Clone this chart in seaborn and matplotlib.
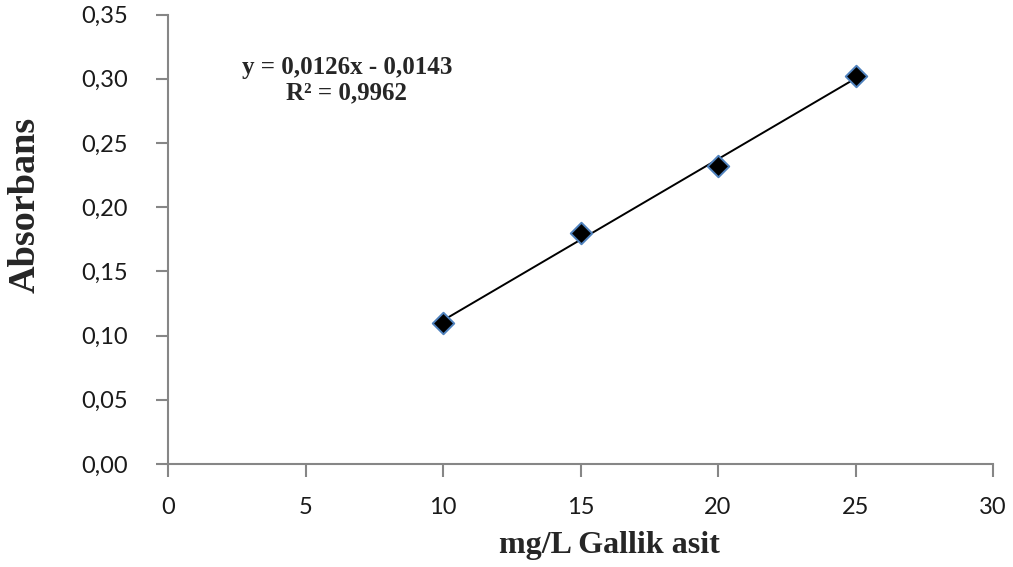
import matplotlib
matplotlib.use("Agg")
import matplotlib.pyplot as plt
import seaborn as sns
import pandas as pd
import numpy as np

# Data
concentration = [10, 15, 20, 25]
absorbance = [0.110, 0.180, 0.232, 0.302]
x_ticks = [0, 5, 10, 15, 20, 25, 30]
y_ticks = [0.00, 0.05, 0.10, 0.15, 0.20, 0.25, 0.30, 0.35]
equation_text = "y = 0,0126x - 0,0143\nR² = 0,9962"
x_label = "mg/L Gallik asit"
y_label = "Absorbans"

sns.set_style("white")
plt.rcParams['font.family'] = ['Lato', 'DejaVu Sans']

df = pd.DataFrame({"x": concentration, "y": absorbance})

fig = plt.figure(figsize=(10.13, 5.67), dpi=100)
ax = fig.add_axes([168/1013, 1 - 464/567, (993 - 168)/1013, (464 - 14.5)/567])

sns.regplot(data=df, x="x", y="y", ax=ax, ci=None, truncate=True,
            scatter=False, line_kws=dict(color="black", lw=1.4, zorder=2))
sns.scatterplot(data=df, x="x", y="y", ax=ax, marker="D", s=120,
                color="black", edgecolor="#4f81bd", linewidth=1.4, zorder=3)

ax.set_xlim(0, 30)
ax.set_ylim(0, 0.35)
ax.set_xticks(x_ticks)
ax.set_yticks(y_ticks)
ax.set_xticklabels([str(v) for v in x_ticks])
ax.set_yticklabels([f"{v:.2f}".replace(".", ",") for v in y_ticks])

for s in ["top", "right"]:
    ax.spines[s].set_visible(False)
for s in ["left", "bottom"]:
    ax.spines[s].set_color("#868686")
    ax.spines[s].set_linewidth(1.5)

ax.tick_params(axis="both", direction="out", length=9, width=1.5,
               color="#868686", labelsize=17, labelcolor="#1a1a1a",
               bottom=True, left=True)
ax.tick_params(axis="y", pad=20)
ax.tick_params(axis="x", pad=15)

ax.set_xlabel(x_label, fontfamily="Liberation Serif", fontweight="bold",
              fontsize=23)
ax.set_ylabel(y_label, fontfamily="Liberation Serif", fontweight="bold",
              fontsize=27.5)
ax.xaxis.set_label_coords(0.535, -0.148)
ax.yaxis.set_label_coords(-0.152, 0.576)

ax.text(6.5, 0.299, equation_text, ha="center", va="center",
        fontfamily="Liberation Serif", fontweight="bold", fontsize=18,
        linespacing=1.1)

fig.savefig("out.png", dpi=100)
